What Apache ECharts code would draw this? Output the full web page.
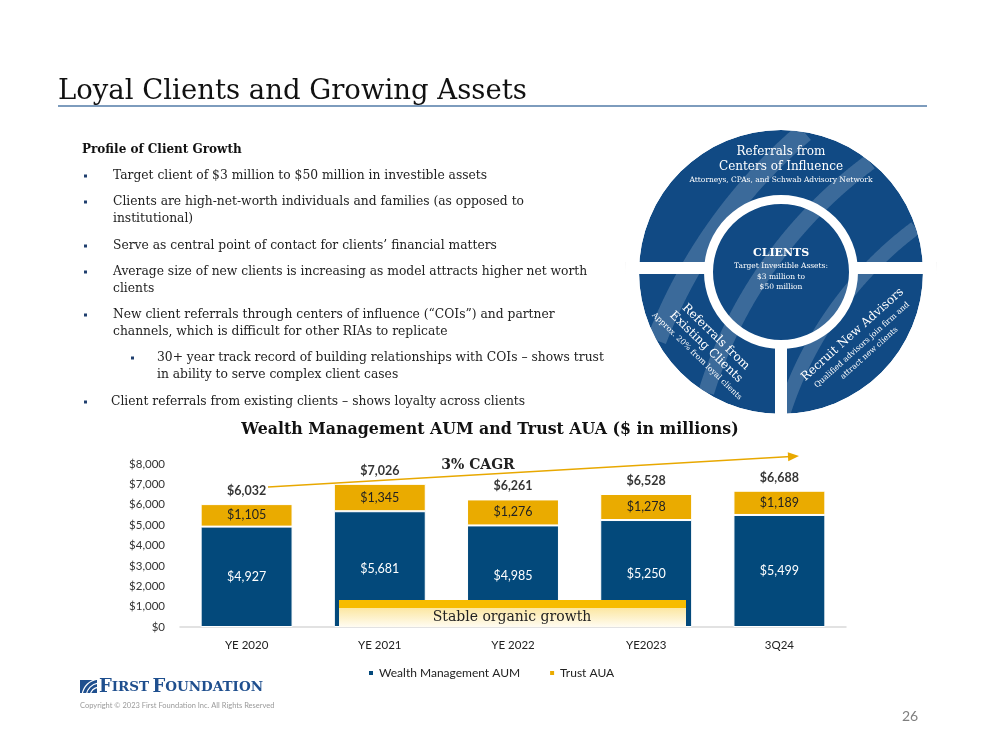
<!DOCTYPE html>
<html>
<head>
<meta charset="utf-8">
<script src="https://cdn.jsdelivr.net/npm/echarts@6/dist/echarts.min.js"></script>
<style>
  html, body { margin: 0; padding: 0; background: #fff; }
  #main { width: 999px; height: 750px; }
</style>
</head>
<body>
<div id="main"></div>
<script>
// chart data
var categories = ['YE 2020', 'YE 2021', 'YE 2022', 'YE2023', '3Q24'];
var wealthAUM = [4927, 5681, 4985, 5250, 5499];
var trustAUA = [1105, 1345, 1276, 1278, 1189];
var totalAssets = [6032, 7026, 6261, 6528, 6688];
var yMax = 8000, yStep = 1000;

var SERIF = "'DejaVu Serif', serif";
var SANS = "Lato, 'Open Sans', sans-serif";
var BLUE = '#03497B', GOLD = '#EAAB00', RING = '#114A84';

function money(v) { return '$' + Number(v).toLocaleString('en-US'); }

function txt(x, y, text, font, fill, align, z) {
  return {
    type: 'text', x: x, y: y, z: z || 6,
    style: { text: text, font: font, fill: fill || '#222', textAlign: align || 'left', textVerticalAlign: 'middle' }
  };
}

var g = [];

// slide title + rule
g.push(txt(58, 92, 'Loyal Clients and Growing Assets', "27.5px " + SERIF, '#111'));
g.push({ type: 'rect', z: 6, shape: { x: 58, y: 105, width: 869, height: 2 }, style: { fill: '#7D9CBD' } });

// bullets
var bodyFont = "12.3px " + SERIF;
g.push(txt(82, 150, 'Profile of Client Growth', "bold 12px " + SERIF, '#111'));
function bullet(mx, tx, y, lines) {
  g.push({ type: 'rect', z: 6, shape: { x: mx, y: y - 1.5, width: 3, height: 3 }, style: { fill: '#1F3F6E' } });
  lines.forEach(function (l, i) { g.push(txt(tx, y + i * 17, l, bodyFont, '#222')); });
}
bullet(84, 113, 176, ['Target client of $3 million to $50 million in investible assets']);
bullet(84, 113, 202, ['Clients are high-net-worth individuals and families (as opposed to', 'institutional)']);
bullet(84, 113, 246, ['Serve as central point of contact for clients\u2019 financial matters']);
bullet(84, 113, 272, ['Average size of new clients is increasing as model attracts higher net worth', 'clients']);
bullet(84, 113, 315, ['New client referrals through centers of influence (\u201cCOIs\u201d) and partner', 'channels, which is difficult for other RIAs to replicate']);
bullet(131, 157, 358, ['30+ year track record of building relationships with COIs \u2013 shows trust', 'in ability to serve complex client cases']);
bullet(84, 111, 402, ['Client referrals from existing clients \u2013 shows loyalty across clients']);

// client circle diagram
var CX = 781, CY = 272, R = 142, RI = 68, RW = 77;
g.push({ type: 'rect', z: 1, shape: { x: 626, y: 262, width: 310, height: 12 }, style: { fill: '#fff', stroke: '#e2e2e2', lineWidth: 1 } });
g.push({ type: 'circle', z: 2, shape: { cx: CX, cy: CY, r: R }, style: { fill: RING } });
function stripe(r, w) {
  var pts = [];
  for (var t = Math.PI; t <= 1.5 * Math.PI; t += 0.002) {
    var x = 1138 + r * Math.cos(t), y = 526 + r * Math.sin(t);
    if (Math.hypot(x - CX, y - CY) < R) pts.push([x, y]);
  }
  g.push({ type: 'polyline', z: 3, shape: { points: pts }, style: { stroke: 'rgba(255,255,255,0.18)', lineWidth: w, fill: null } });
}
stripe(372, 14); stripe(452, 16); stripe(516, 20);
g.push({ type: 'ring', z: 4, shape: { cx: CX, cy: CY, r: R + 14, r0: R }, style: { fill: '#fff' } });
g.push({ type: 'ring', z: 5, shape: { cx: CX, cy: CY, r: RW, r0: RI }, style: { fill: '#fff' } });
g.push({ type: 'rect', z: 5, shape: { x: 630, y: 262, width: CX - RI - 630, height: 12 }, style: { fill: '#fff' } });
g.push({ type: 'rect', z: 5, shape: { x: CX + RI, y: 262, width: 932 - CX - RI, height: 12 }, style: { fill: '#fff' } });
g.push({ type: 'rect', z: 5, shape: { x: CX - 6, y: CY + RI, width: 12, height: 90 }, style: { fill: '#fff' } });

g.push(txt(CX, 152, 'Referrals from', "12px " + SERIF, '#fff', 'center'));
g.push(txt(CX, 167, 'Centers of Influence', "12px " + SERIF, '#fff', 'center'));
g.push(txt(CX, 180, 'Attorneys, CPAs, and Schwab Advisory Network', "7.5px " + SERIF, '#fff', 'center'));
g.push(txt(CX, 253, 'CLIENTS', "bold 11px " + SERIF, '#fff', 'center'));
g.push(txt(CX, 266, 'Target Investible Assets:', "7.5px " + SERIF, '#fff', 'center'));
g.push(txt(CX, 277, '$3 million to', "7.5px " + SERIF, '#fff', 'center'));
g.push(txt(CX, 287, '$50 million', "7.5px " + SERIF, '#fff', 'center'));

g.push({
  type: 'group', x: 706, y: 347, rotation: -0.77, z: 6,
  children: [
    txt(0, -14, 'Referrals from', "12px " + SERIF, '#fff', 'center'),
    txt(0, 0, 'Existing Clients', "12px " + SERIF, '#fff', 'center'),
    txt(0, 13, 'Approx. 20% from loyal clients', "7.8px " + SERIF, '#fff', 'center')
  ]
});
g.push({
  type: 'group', x: 862, y: 345, rotation: 0.73, z: 6,
  children: [
    txt(0, -14, 'Recruit New Advisors', "12px " + SERIF, '#fff', 'center'),
    txt(0, 0, 'Qualified advisors join firm and', "7.8px " + SERIF, '#fff', 'center'),
    txt(0, 11, 'attract new clients', "7.8px " + SERIF, '#fff', 'center')
  ]
});

// chart title
g.push(txt(490, 430, 'Wealth Management AUM and Trust AUA ($ in millions)', "bold 15.8px " + SERIF, '#111', 'center'));

// CAGR arrow
var a0 = [268, 487], a1 = [799, 456];
var dx = a1[0] - a0[0], dy = a1[1] - a0[1], len = Math.hypot(dx, dy), ux = dx / len, uy = dy / len;
g.push({ type: 'line', z: 6, shape: { x1: a0[0], y1: a0[1], x2: a1[0] - ux * 8, y2: a1[1] - uy * 8 }, style: { stroke: '#E8A800', lineWidth: 1.5 } });
g.push({ type: 'polygon', z: 6, shape: { points: [a1, [a1[0] - ux * 11 - uy * 4.5, a1[1] - uy * 11 + ux * 4.5], [a1[0] - ux * 11 + uy * 4.5, a1[1] - uy * 11 - ux * 4.5]] }, style: { fill: '#E8A800' } });
g.push(txt(478, 465, '3% CAGR', "bold 14px " + SERIF, '#222', 'center'));

// stable organic growth band
g.push({ type: 'rect', z: 20, shape: { x: 339, y: 600, width: 347, height: 8 }, style: { fill: '#F7BC00' } });
g.push({
  type: 'rect', z: 20, shape: { x: 339, y: 608, width: 347, height: 19 },
  style: { fill: new echarts.graphic.LinearGradient(0, 0, 0, 1, [{ offset: 0, color: '#FCE7A2' }, { offset: 1, color: '#FFFCF2' }]) }
});
g.push(txt(512, 617, 'Stable organic growth', "14px " + SERIF, '#222', 'center', 21));

// footer
g.push({ type: 'rect', z: 6, shape: { x: 80, y: 680, width: 17, height: 13 }, style: { fill: '#1F4F8E' } });
[10, 14, 18].forEach(function (r) {
  g.push({ type: 'arc', z: 7, shape: { cx: 100, cy: 697, r: r, startAngle: Math.PI * 1.05, endAngle: Math.PI * 1.45 }, style: { stroke: '#fff', lineWidth: 1.2, fill: null } });
});
g.push({
  type: 'text', x: 99, y: 687, z: 6,
  style: {
    text: '{b|F}{s|IRST} {b|F}{s|OUNDATION}', textVerticalAlign: 'middle', fill: '#1F4F8E',
    rich: { b: { font: "bold 18px " + SERIF, fill: '#1F4F8E' }, s: { font: "bold 13.5px " + SERIF, fill: '#1F4F8E' } }
  }
});
g.push(txt(80, 706, 'Copyright \u00a9 2023 First Foundation Inc. All Rights Reserved', "7.5px " + SANS, '#9a9a9a'));
g.push(txt(910, 716, '26', "14px " + SANS, '#7f7f7f', 'center'));

var chart = echarts.init(document.getElementById('main'), null, { renderer: 'canvas' });
chart.setOption({
  backgroundColor: '#fff',
  animation: false,
  textStyle: { fontFamily: SANS },
  grid: { left: 180, right: 153, top: 464, bottom: 123 },
  legend: {
    data: ['Wealth Management AUM', 'Trust AUA'], left: 362, top: 662,
    icon: 'rect', itemWidth: 6, itemHeight: 6, itemGap: 28,
    textStyle: { fontSize: 12, color: '#222', fontFamily: SANS }
  },
  xAxis: {
    type: 'category', data: categories,
    axisLine: { lineStyle: { color: '#D9D9D9', width: 1.5 } },
    axisTick: { show: false },
    axisLabel: { color: '#222', fontSize: 11.5, margin: 12 }
  },
  yAxis: {
    type: 'value', min: 0, max: yMax, interval: yStep,
    splitLine: { show: false }, axisLine: { show: false }, axisTick: { show: false },
    axisLabel: { color: '#333', fontSize: 11.5, margin: 15, formatter: money }
  },
  series: [
    {
      name: 'Wealth Management AUM', type: 'bar', stack: 'aum', data: wealthAUM, barWidth: '69%',
      itemStyle: { color: BLUE, borderColor: '#fff', borderWidth: 1 },
      label: { show: true, position: 'inside', color: '#fff', fontSize: 12.5, formatter: function (p) { return money(p.value); } }
    },
    {
      name: 'Trust AUA', type: 'bar', stack: 'aum', data: trustAUA, barWidth: '69%',
      itemStyle: { color: GOLD, borderColor: '#fff', borderWidth: 1 },
      label: { show: true, position: 'inside', color: '#222', fontSize: 12.5, formatter: function (p) { return money(p.value); } }
    },
    {
      name: 'Total', type: 'scatter', data: totalAssets, symbol: 'rect', symbolSize: 1, silent: true,
      itemStyle: { color: 'rgba(0,0,0,0)' },
      label: { show: true, position: 'top', distance: 6, color: '#000', fontWeight: 'bold', fontSize: 12.5, formatter: function (p) { return money(p.value); } }
    }
  ],
  graphic: g
});
</script>
</body>
</html>
